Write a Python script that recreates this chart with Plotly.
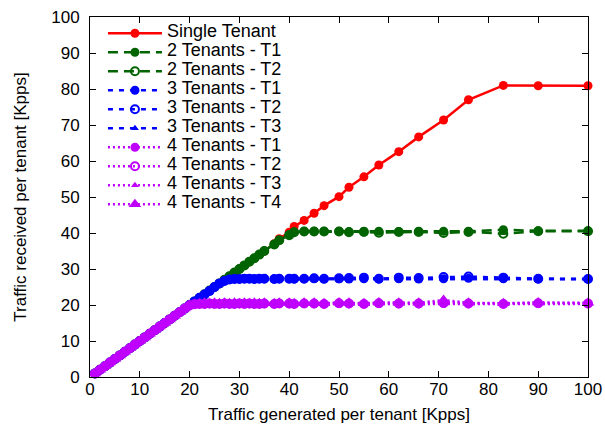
import plotly.graph_objects as go

# Traffic generated per tenant [Kpps]
x_gen = [1, 2, 3, 4, 5, 6, 7, 8, 9, 10, 11, 12, 13, 14, 15, 16, 17, 18, 19, 20,
         21, 22, 23, 24, 25, 26, 27, 28, 29, 30, 31, 32, 33, 34, 35,
         37, 38, 40, 41, 43, 45, 47, 50, 52, 55, 58, 62, 66, 71, 76, 83, 90, 100]

single = [1, 2, 3, 4, 5, 6, 7, 8, 9, 10, 11, 12, 13, 14, 15, 16, 17, 18, 19, 20,
          21, 22, 23, 24, 25, 26, 27, 28, 29, 30, 31, 32, 33, 34, 35,
          37, 38.4, 40.2, 41.8, 43.5, 45.5, 47.6, 50.1, 52.7, 55.6, 58.9, 62.6, 66.7, 71.4, 77.0, 81.0, 80.9, 80.9]

two_t1 = [1, 2, 3, 4, 5, 6, 7, 8, 9, 10, 11, 12, 13, 14, 15, 16, 17, 18, 19, 20,
          21, 22, 23, 24, 25, 26, 27, 28, 29, 30, 31, 32, 33, 34, 35,
          36.8, 38.0, 39.5, 40.3, 40.5, 40.5, 40.5, 40.5, 40.4, 40.5, 40.5, 40.4, 40.5, 40.5, 40.5, 40.9, 40.6, 40.6]
two_t2 = [1, 2, 3, 4, 5, 6, 7, 8, 9, 10, 11, 12, 13, 14, 15, 16, 17, 18, 19, 20,
          21, 22, 23, 24, 25, 26, 27, 28, 29, 30, 31, 32, 33, 34, 35,
          36.8, 38.0, 39.4, 40.2, 40.4, 40.4, 40.4, 40.4, 40.2, 40.3, 40.1, 40.3, 40.3, 40.0, 40.3, 39.8, 40.5, 40.5]

three_t1 = [1, 2, 3, 4, 5, 6, 7, 8, 9, 10, 11, 12, 13, 14, 15, 16, 17, 18, 19, 20,
            21, 22, 22.9, 23.9, 25.0, 26.0, 26.7, 27.1, 27.2, 27.2, 27.3, 27.3, 27.2, 27.3, 27.3,
            27.2, 27.3, 27.3, 27.2, 27.3, 27.4, 27.2, 27.3, 27.2, 27.3, 27.2, 27.3, 27.2, 27.3, 27.4, 27.3, 27.2, 27.2]
three_t2 = [1, 2, 3, 4, 5, 6, 7, 8, 9, 10, 11, 12, 13, 14, 15, 16, 17, 18, 19, 20,
            21, 22, 22.9, 23.9, 25.0, 26.0, 26.7, 27.1, 27.2, 27.2, 27.3, 27.3, 27.2, 27.3, 27.3,
            27.2, 27.3, 27.3, 27.3, 27.3, 27.4, 27.3, 27.4, 27.5, 27.6, 27.3, 27.6, 27.5, 27.8, 27.9, 27.6, 27.3, 27.2]
three_t3 = [1, 2, 3, 4, 5, 6, 7, 8, 9, 10, 11, 12, 13, 14, 15, 16, 17, 18, 19, 20,
            21, 22, 22.9, 23.9, 25.0, 26.0, 26.7, 27.1, 27.2, 27.2, 27.3, 27.3, 27.2, 27.3, 27.3,
            27.2, 27.3, 27.3, 27.2, 27.3, 27.3, 27.2, 27.3, 27.3, 27.3, 27.2, 27.3, 27.3, 27.3, 27.4, 27.3, 27.2, 27.2]

four_t1 = [1, 2, 3, 4, 5, 6, 7, 8, 9, 10, 11, 12, 13, 14, 15, 16, 17, 18, 19, 19.9,
           20.2, 20.3, 20.3, 20.3, 20.4, 20.3, 20.3, 20.4, 20.3, 20.3, 20.4, 20.3, 20.3, 20.4, 20.3,
           20.3, 20.4, 20.3, 20.3, 20.4, 20.3, 20.3, 20.4, 20.3, 20.3, 20.4, 20.3, 20.3, 20.4, 20.3, 20.3, 20.4, 20.3]
four_t2 = [1, 2, 3, 4, 5, 6, 7, 8, 9, 10, 11, 12, 13, 14, 15, 16, 17, 18, 19, 19.9,
           20.2, 20.3, 20.3, 20.4, 20.3, 20.3, 20.4, 20.3, 20.3, 20.4, 20.3, 20.4, 20.3, 20.3, 20.4,
           20.3, 20.4, 20.4, 20.3, 20.4, 20.4, 20.3, 20.5, 20.4, 20.3, 20.5, 20.4, 20.4, 20.6, 20.4, 20.3, 20.5, 20.4]
four_t3 = [1, 2, 3, 4, 5, 6, 7, 8, 9, 10, 11, 12, 13, 14, 15, 16, 17, 18, 19, 19.9,
           20.2, 20.4, 20.5, 20.4, 20.5, 20.4, 20.5, 20.4, 20.5, 20.4, 20.5, 20.4, 20.5, 20.4, 20.5,
           20.4, 20.5, 20.5, 20.4, 20.5, 20.5, 20.4, 20.6, 20.5, 20.4, 20.6, 20.5, 20.5, 20.9, 20.5, 20.4, 20.6, 20.5]
four_t4 = [1, 2, 3, 4, 5, 6, 7, 8, 9, 10, 11, 12, 13, 14, 15, 16, 17, 18, 19, 19.9,
           20.2, 20.5, 20.6, 20.5, 20.6, 20.5, 20.6, 20.5, 20.6, 20.5, 20.6, 20.5, 20.6, 20.5, 20.6,
           20.5, 20.6, 20.6, 20.5, 20.6, 20.6, 20.5, 20.7, 20.6, 20.5, 20.7, 20.6, 20.6, 21.4, 20.6, 20.5, 20.7, 20.6]

names = ["Single Tenant", "2 Tenants - T1", "2 Tenants - T2",
         "3 Tenants - T1", "3 Tenants - T2", "3 Tenants - T3",
         "4 Tenants - T1", "4 Tenants - T2", "4 Tenants - T3", "4 Tenants - T4"]
values = [single, two_t1, two_t2, three_t1, three_t2, three_t3,
          four_t1, four_t2, four_t3, four_t4]

RED, GREEN, BLUE, PURPLE = "#ff0000", "#006400", "#0000ff", "#c000ff"
styles = [
    (RED, "solid", "circle", 9),
    (GREEN, "10px,6px", "circle", 9),
    (GREEN, "10px,6px", "circle-open", 8),
    (BLUE, "5px,6px", "circle", 9),
    (BLUE, "5px,6px", "circle-open", 8),
    (BLUE, "5px,6px", "triangle-up", 7),
    (PURPLE, "2px,3px", "circle", 9),
    (PURPLE, "2px,3px", "circle-open", 8),
    (PURPLE, "2px,3px", "triangle-up", 7),
    (PURPLE, "2px,3px", "triangle-up", 11),
]

FONT = "Liberation Sans, Arial, sans-serif"
fig = go.Figure()
for name, yv, (color, dash, symbol, size) in zip(names, values, styles):
    is_open = symbol.endswith("open")
    fig.add_trace(go.Scatter(
        x=x_gen, y=yv, mode="lines+markers",
        name='<span style="font-size:18px">' + name + '</span>',
        line=dict(color=color, width=2.5, dash=dash),
        marker=dict(symbol=symbol, size=size, color=color,
                    line=dict(color=color, width=2 if is_open else 0)),
        cliponaxis=False,
    ))

axis_common = dict(
    range=[0, 100], dtick=10, tick0=0, automargin=False,
    showline=True, linecolor="black", linewidth=1, mirror="ticks",
    ticks="inside", ticklen=6, tickcolor="black", tickwidth=1,
    showgrid=False, zeroline=False,
    tickfont=dict(family=FONT, size=17, color="black"),
)

fig.update_layout(
    width=605, height=432,
    margin=dict(l=90, r=17, t=17, b=55),
    paper_bgcolor="white", plot_bgcolor="white",
    font=dict(family=FONT, size=17, color="black"),
    xaxis=dict(**axis_common, ticklabelstandoff=-3,
               title=dict(text="Traffic generated per tenant [Kpps]",
                          font=dict(family=FONT, size=17), standoff=9)),
    yaxis=dict(**axis_common, ticklabelstandoff=6,
               title=dict(text="Traffic received per tenant [Kpps]",
                          font=dict(family=FONT, size=17), standoff=20)),
    legend=dict(x=0.026, y=0.995, xanchor="left", yanchor="top",
                font=dict(family=FONT, size=9, color="black"),
                itemwidth=54, bgcolor="rgba(0,0,0,0)", borderwidth=0,
                tracegroupgap=0),
    showlegend=True,
)

fig.write_html("out.html")
